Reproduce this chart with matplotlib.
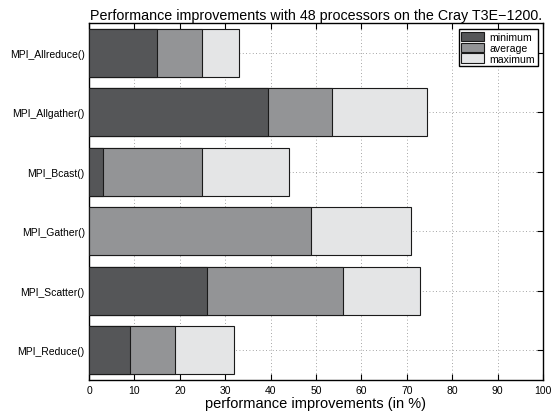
import numpy as np
import matplotlib
matplotlib.use("Agg")
import matplotlib.pyplot as plt

# data (bottom to top, as drawn)
routines = ["MPI_Reduce()", "MPI_Scatter()", "MPI_Gather()",
            "MPI_Bcast()", "MPI_Allgather()", "MPI_Allreduce()"]
minimum = [9, 26, 0, 3, 39.5, 15]
average = [19, 56, 49, 25, 53.5, 25]
maximum = [32, 73, 71, 44, 74.5, 33]

C_MIN, C_AVG, C_MAX = "#555658", "#939496", "#e4e5e6"

plt.rcParams["font.family"] = ["Liberation Sans", "DejaVu Sans"]
fig = plt.figure(figsize=(5.58, 4.14), dpi=100)
ax = fig.add_axes([0.1595, 0.0797, 0.8135, 0.8623])

y = np.arange(1, len(routines) + 1)
h = 0.8
ax.barh(y, maximum, h, color=C_MAX, edgecolor="#1a1a1a", lw=0.8, label="maximum", zorder=2)
ax.barh(y, average, h, color=C_AVG, edgecolor="#1a1a1a", lw=0.8, label="average", zorder=3)
ax.barh(y, minimum, h, color=C_MIN, edgecolor="#1a1a1a", lw=0.8, label="minimum", zorder=4)

ax.set_xlim(0, 100)
ax.set_ylim(0.5, len(routines) + 0.5)
ax.set_xticks(np.arange(0, 101, 10))
ax.set_yticks(y)
ax.set_yticklabels(routines)
ax.tick_params(direction="in", top=True, right=True, labelsize=7.5, length=4, width=0.8)
ax.tick_params(axis="y", pad=3)
ax.grid(True, ls=(0, (1, 3)), color="#888888", lw=0.6, zorder=0)
ax.set_axisbelow(True)
for s in ax.spines.values():
    s.set_linewidth(1.0)

ax.set_xlabel("performance improvements (in %)", fontsize=10.5, labelpad=1)
ax.set_title("Performance improvements with 48 processors on the Cray T3E\u22121200.",
             fontsize=10.3, pad=3)

hnd, lab = ax.get_legend_handles_labels()
leg = ax.legend(hnd[::-1], lab[::-1], loc="upper right", fontsize=7.6, fancybox=False,
                edgecolor="black", framealpha=1, borderpad=0.25, labelspacing=0.05,
                handlelength=2.2, handleheight=1.0, handletextpad=0.5,
                borderaxespad=0, bbox_to_anchor=(0.989, 0.983))
leg.get_frame().set_linewidth(1.0)

fig.savefig("out.png", dpi=100)
